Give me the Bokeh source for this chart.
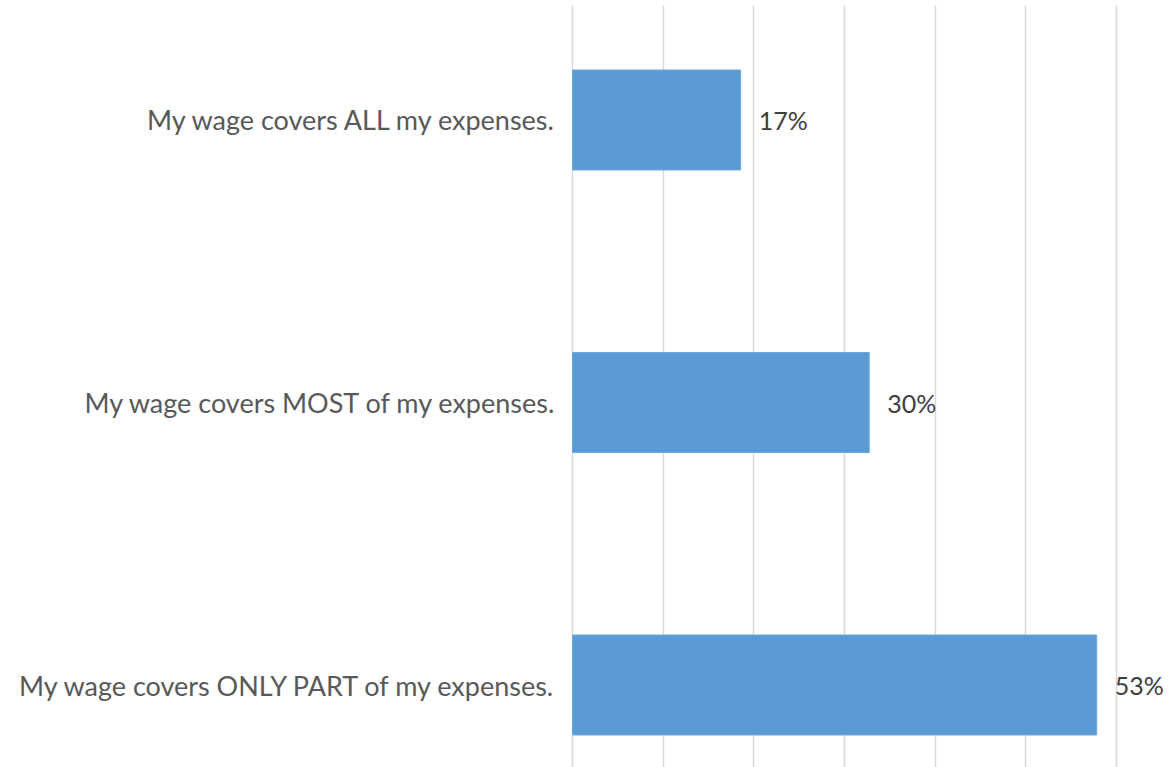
from bokeh.plotting import figure
from bokeh.models import Range1d, FixedTicker, ColumnDataSource
from bokeh.core.properties import value
from bokeh.embed import file_html
from bokeh.resources import INLINE

# Survey responses, top to bottom
categories = [
    "My wage covers ALL my expenses.",
    "My wage covers MOST of my expenses.",
    "My wage covers ONLY PART of my expenses.",
]
shares = [0.17, 0.30, 0.53]
share_labels = ["17%", "30%", "53%"]

positions = list(range(len(categories)))

source = ColumnDataSource(dict(
    y=positions,
    share=shares,
    label=share_labels,
))

FONT = "Lato"

p = figure(
    width=1170, height=767,
    x_range=Range1d(-0.00202, 0.6046),
    y_range=Range1d(2.292, -0.4053),
    output_backend="svg", toolbar_location=None,
    min_border_left=570, min_border_right=0,
    min_border_top=5, min_border_bottom=0,
)
p.outline_line_color = None
p.background_fill_color = "white"
p.border_fill_color = "white"

# vertical gridlines, six equal divisions up to 55%
p.xgrid.ticker = FixedTicker(ticks=[i * 0.55 / 6 for i in range(7)])
p.xgrid.grid_line_color = "#d9d9d9"
p.xgrid.grid_line_width = 1.5
p.ygrid.grid_line_color = None
p.xaxis.visible = False

p.hbar(y="y", left=0, right="share", height=0.354, source=source,
       fill_color="#5b9bd5", line_color="#6fa8dc", line_width=1)

p.text(x="share", y="y", text="label", source=source,
       x_offset=18, text_baseline="middle", text_align="left",
       text_font=value(FONT), text_font_size="25px", text_color="#404040")

yax = p.yaxis[0]
yax.ticker = FixedTicker(ticks=positions)
yax.major_label_overrides = {i: c for i, c in zip(positions, categories)}
yax.axis_line_color = None
yax.major_tick_line_color = None
yax.minor_tick_line_color = None
yax.major_tick_out = 0
yax.major_tick_in = 0
yax.major_label_standoff = 13
yax.major_label_text_font = FONT
yax.major_label_text_font_size = "27px"
yax.major_label_text_color = "#595959"

open("out.html", "w").write(file_html(p, INLINE))
